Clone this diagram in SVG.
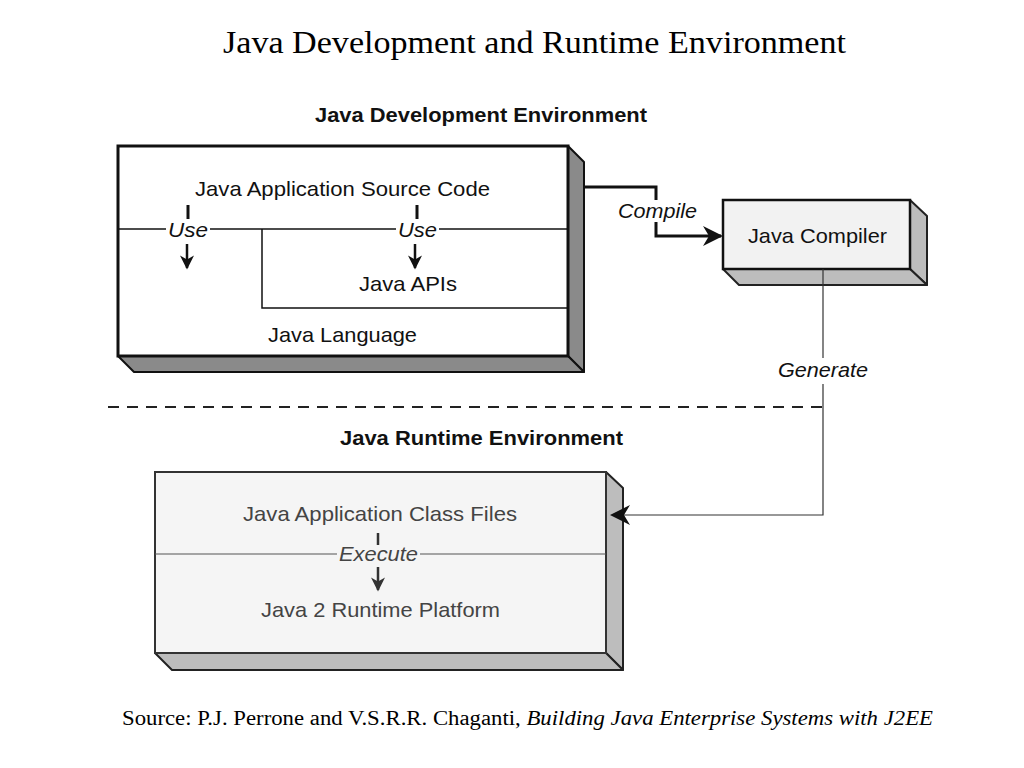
<svg xmlns="http://www.w3.org/2000/svg" width="1024" height="768" viewBox="0 0 1024 768">
<defs>
<marker id="ahBig" viewBox="0 0 10 10" refX="9" refY="5" markerWidth="24" markerHeight="20" markerUnits="userSpaceOnUse" orient="auto">
<path d="M0,0 L10,5 L0,10 L3,5 Z" fill="#111"/>
</marker>
<marker id="ahDown" viewBox="0 0 10 10" refX="9" refY="5" markerWidth="17" markerHeight="14" markerUnits="userSpaceOnUse" orient="auto">
<path d="M0,0 L10,5 L0,10 L3,5 Z" fill="#111"/>
</marker>
<marker id="ahDownG" viewBox="0 0 10 10" refX="9" refY="5" markerWidth="17" markerHeight="14" markerUnits="userSpaceOnUse" orient="auto">
<path d="M0,0 L10,5 L0,10 L3,5 Z" fill="#333"/>
</marker>
</defs>
<style>
.title{font-family:"Liberation Serif","Times New Roman",serif;font-size:32px;fill:#000}
.src{font-family:"Liberation Serif","Times New Roman",serif;font-size:20px;fill:#000}
.head{font-family:"Liberation Sans",Arial,sans-serif;font-size:21px;font-weight:bold;fill:#111}
.lbl{font-family:"Liberation Sans",Arial,sans-serif;font-size:21px;fill:#111}
.lblg{font-family:"Liberation Sans",Arial,sans-serif;font-size:21px;fill:#444}
.it{font-family:"Liberation Sans",Arial,sans-serif;font-size:21px;font-style:italic;fill:#111}
.itg{font-family:"Liberation Sans",Arial,sans-serif;font-size:21px;font-style:italic;fill:#444}
.face{fill:#fff;stroke:#111;stroke-width:3}
.depthD{fill:#8a8a8a;stroke:#111;stroke-width:2;stroke-linejoin:round}
.depthL{fill:#bdbdbd;stroke:#222;stroke-width:2;stroke-linejoin:round}
.thin{stroke:#111;stroke-width:1.5;fill:none}
.thing{stroke:#555;stroke-width:1.2;fill:none}
</style>
<rect width="1024" height="768" fill="#fff"/>
<text class="title" x="223" y="53" textLength="623" lengthAdjust="spacingAndGlyphs">Java Development and Runtime Environment</text>
<text class="head" x="315" y="122" textLength="332" lengthAdjust="spacingAndGlyphs">Java Development Environment</text>
<text class="head" x="340" y="445" textLength="283" lengthAdjust="spacingAndGlyphs">Java Runtime Environment</text>

<g id="dev-env">
<path class="depthD" d="M568,146 L584,162 L584,372 L568,356 Z"/>
<path class="depthD" d="M118,356 L134,372 L584,372 L568,356 Z"/>
<rect class="face" x="118" y="146" width="450" height="210"/>
<line class="thin" x1="118" y1="229" x2="568" y2="229"/>
<polyline class="thin" points="262,229 262,308 568,308"/>
<text class="lbl" x="195" y="196" textLength="295" lengthAdjust="spacingAndGlyphs">Java Application Source Code</text>
<rect x="166" y="221" width="44" height="16" fill="#fff"/>
<rect x="396" y="221" width="43" height="16" fill="#fff"/>
<text class="it" x="168" y="237" textLength="40" lengthAdjust="spacingAndGlyphs">Use</text>
<text class="it" x="398" y="237" textLength="39" lengthAdjust="spacingAndGlyphs">Use</text>
<line x1="188" y1="205" x2="188" y2="219" stroke="#111" stroke-width="3"/>
<line x1="417" y1="205" x2="417" y2="219" stroke="#111" stroke-width="3"/>
<line x1="187" y1="244" x2="187" y2="268" stroke="#111" stroke-width="2.5" marker-end="url(#ahDown)"/>
<line x1="415" y1="244" x2="415" y2="268" stroke="#111" stroke-width="2.5" marker-end="url(#ahDown)"/>
<text class="lbl" x="359" y="291" textLength="98" lengthAdjust="spacingAndGlyphs">Java APIs</text>
<text class="lbl" x="268" y="342" textLength="149" lengthAdjust="spacingAndGlyphs">Java Language</text>
</g>

<g id="compiler">
<path class="depthL" d="M910,200 L927,216 L927,285 L910,269 Z"/>
<path class="depthL" d="M723,269 L739,285 L927,285 L910,269 Z"/>
<rect x="723" y="200" width="187" height="69" fill="#f2f2f2" stroke="#111" stroke-width="2.5"/>
<text class="lbl" x="748" y="243" textLength="139" lengthAdjust="spacingAndGlyphs">Java Compiler</text>
</g>

<g id="runtime-env">
<path class="depthL" d="M606,472 L623,488 L623,670 L606,653 Z"/>
<path class="depthL" d="M155,653 L172,670 L623,670 L606,653 Z"/>
<rect x="155" y="472" width="451" height="181" fill="#f5f5f5" stroke="#333" stroke-width="2"/>
<line class="thing" x1="155" y1="554" x2="606" y2="554"/>
<text class="lblg" x="243" y="521" textLength="274" lengthAdjust="spacingAndGlyphs">Java Application Class Files</text>
<rect x="337" y="546" width="83" height="16" fill="#f5f5f5"/>
<text class="itg" x="339" y="561" textLength="79" lengthAdjust="spacingAndGlyphs">Execute</text>
<line x1="378" y1="533" x2="378" y2="545" stroke="#333" stroke-width="2.5"/>
<line x1="378" y1="567" x2="378" y2="590" stroke="#333" stroke-width="2.5" marker-end="url(#ahDownG)"/>
<text class="lblg" x="261" y="617" textLength="239" lengthAdjust="spacingAndGlyphs">Java 2 Runtime Platform</text>
</g>

<g id="connectors">
<polyline points="584,187 656,187 656,200" fill="none" stroke="#111" stroke-width="3"/>
<polyline points="656,222 656,236 721,236" fill="none" stroke="#111" stroke-width="3" marker-end="url(#ahBig)"/>
<text class="it" x="618" y="218" textLength="79" lengthAdjust="spacingAndGlyphs">Compile</text>
<line x1="823" y1="269" x2="823" y2="358" stroke="#333" stroke-width="1.2"/>
<text class="it" x="778" y="377" textLength="90" lengthAdjust="spacingAndGlyphs">Generate</text>
<polyline points="823,384 823,515 612,515" fill="none" stroke="#333" stroke-width="1.2" marker-end="url(#ahBig)"/>
<line x1="108" y1="407" x2="822" y2="407" stroke="#222" stroke-width="2" stroke-dasharray="11,8"/>
</g>

<text class="src" x="122" y="725" textLength="811" lengthAdjust="spacingAndGlyphs">Source: P.J. Perrone and V.S.R.R. Chaganti, <tspan font-style="italic">Building Java Enterprise Systems with J2EE</tspan></text>
</svg>
